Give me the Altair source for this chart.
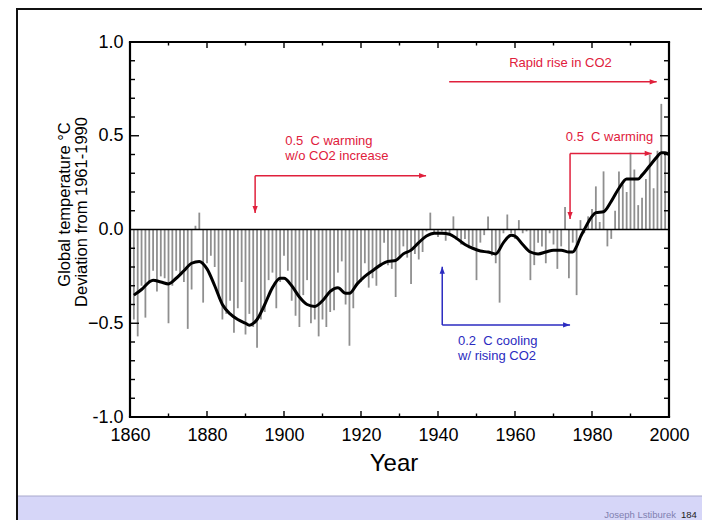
import altair as alt
import pandas as pd

# ---------------- data ----------------
years = list(range(1861, 2001))
anomaly = [
    -0.48, -0.57, -0.30, -0.47, -0.28, -0.22, -0.33, -0.25, -0.26, -0.50,   # 1861-1870
    -0.30, -0.22, -0.24, -0.28, -0.53, -0.32, 0.02, 0.09, -0.39, -0.18,     # 1871-1880
    -0.14, -0.20, -0.35, -0.48, -0.45, -0.38, -0.55, -0.42, -0.28, -0.56,   # 1881-1890
    -0.45, -0.52, -0.63, -0.48, -0.44, -0.27, -0.23, -0.42, -0.28, -0.14,   # 1891-1900
    -0.22, -0.38, -0.46, -0.52, -0.35, -0.27, -0.50, -0.48, -0.57, -0.48,   # 1901-1910
    -0.52, -0.44, -0.43, -0.23, -0.17, -0.40, -0.62, -0.42, -0.30, -0.28,   # 1911-1920
    -0.18, -0.31, -0.26, -0.30, -0.20, -0.07, -0.19, -0.21, -0.36, -0.14,   # 1921-1930
    -0.09, -0.15, -0.29, -0.13, -0.16, -0.12, -0.01, 0.09, -0.02, -0.04,    # 1931-1940
    -0.01, -0.06, -0.03, 0.07, -0.04, -0.08, -0.05, -0.10, -0.09, -0.27,    # 1941-1950
    -0.07, -0.03, 0.07, -0.14, -0.18, -0.39, -0.02, 0.08, -0.02, -0.05,     # 1951-1960
    0.05, -0.02, -0.01, -0.27, -0.19, -0.07, -0.09, -0.18, -0.02, -0.08,    # 1961-1970
    -0.21, -0.09, 0.12, -0.26, -0.07, -0.35, 0.05, -0.02, 0.07, 0.11,       # 1971-1980
    0.23, 0.04, 0.31, -0.09, -0.05, 0.10, 0.31, 0.24, 0.20, 0.41,           # 1981-1990
    0.32, 0.13, 0.17, 0.27, 0.40, 0.22, 0.42, 0.67, 0.40, 0.38,             # 1991-2000
]

smooth_years = [1861, 1863, 1865, 1866, 1868, 1870, 1872, 1874, 1876, 1878,
                1880, 1882, 1884, 1886, 1888, 1890, 1891, 1893, 1895, 1897,
                1899, 1900, 1902, 1904, 1906, 1908, 1910, 1912, 1914, 1916,
                1917, 1919, 1921, 1923, 1925, 1927, 1929, 1931, 1933, 1935,
                1937, 1939, 1941, 1943, 1945, 1947, 1949, 1951, 1953, 1955,
                1957, 1959, 1960, 1962, 1964, 1966, 1968, 1970, 1972, 1974,
                1975, 1976, 1977, 1978, 1980, 1981, 1983, 1985, 1987, 1989,
                1991, 1992, 1993, 1995, 1997, 1998, 1999, 2000]
smooth_vals = [-0.35, -0.32, -0.28, -0.27, -0.28, -0.29, -0.26, -0.22, -0.18, -0.17,
               -0.21, -0.30, -0.40, -0.45, -0.48, -0.50, -0.51, -0.48, -0.40, -0.31,
               -0.26, -0.26, -0.30, -0.36, -0.40, -0.41, -0.38, -0.33, -0.31, -0.34,
               -0.34, -0.29, -0.25, -0.22, -0.19, -0.17, -0.165, -0.13, -0.11, -0.07,
               -0.035, -0.02, -0.02, -0.025, -0.05, -0.08, -0.10, -0.115, -0.12, -0.13,
               -0.07, -0.03, -0.035, -0.08, -0.12, -0.13, -0.12, -0.11, -0.11, -0.12,
               -0.12, -0.09, -0.04, 0.0, 0.07, 0.09, 0.095, 0.15, 0.22, 0.27,
               0.27, 0.27, 0.29, 0.34, 0.39, 0.41, 0.41, 0.40]

x_label_values = [1860, 1880, 1900, 1920, 1940, 1960, 1980, 2000]
y_label_values = [-1.0, -0.5, 0.0, 0.5, 1.0]
x_minor_ticks = [1870, 1890, 1910, 1930, 1950, 1970, 1990]
y_minor_ticks = [-0.9, -0.8, -0.7, -0.6, -0.4, -0.3, -0.2, -0.1,
                 0.1, 0.2, 0.3, 0.4, 0.6, 0.7, 0.8, 0.9]
y_major_ticks = [-0.5, 0.5]

# annotation texts (year, value anchor)
NB = "\u00a0"
note_text = ["Rapid rise in CO2", f"0.5{NB}{NB}C warming", "w/o CO2 increase",
             f"0.5{NB}{NB}C warming", f"0.2{NB}{NB}C cooling", "w/ rising CO2"]
note_x = [1971.8, 1900.3, 1900.3, 1973.2, 1945.2, 1945.2]
note_y = [0.886, 0.472, 0.392, 0.492, -0.596, -0.676]
note_align = ["center", "left", "left", "left", "left", "left"]
note_color = ["#e0203c", "#e0203c", "#e0203c", "#e0203c", "#2b2bc0", "#2b2bc0"]

# arrow segments
seg_x = [1942.9, 1892.5, 1892.5, 1974.3, 1974.3, 1941.1, 1941.1]
seg_x2 = [1996.8, 1936.9, 1892.5, 1995.5, 1974.3, 1941.1, 1974.3]
seg_y = [0.788, 0.287, 0.287, 0.406, 0.406, -0.509, -0.509]
seg_y2 = [0.788, 0.287, 0.088, 0.406, 0.056, -0.198, -0.509]
seg_color = ["#e0203c", "#e0203c", "#e0203c", "#e0203c", "#e0203c", "#2b2bc0", "#2b2bc0"]

RIGHT = "M0,0 L-2,-0.75 L-2,0.75 Z"
DOWN = "M0,0 L-0.75,-2 L0.75,-2 Z"
UP = "M0,0 L-0.75,2 L0.75,2 Z"
head_x = [1996.8, 1936.9, 1892.5, 1995.5, 1974.3, 1941.1, 1974.3]
head_y = [0.788, 0.287, 0.088, 0.406, 0.056, -0.198, -0.509]
head_shape = [RIGHT, RIGHT, DOWN, RIGHT, DOWN, UP, RIGHT]
head_color = seg_color

# ---------------- chart ----------------
W, H = 539, 375
FONT = "Liberation Sans"

bars_df = pd.DataFrame({"year": years, "anom": anomaly})
smooth_df = pd.DataFrame({"year": smooth_years, "val": smooth_vals})
notes_df = pd.DataFrame({"x": note_x, "y": note_y, "t": note_text,
                         "a": note_align, "c": note_color})
seg_df = pd.DataFrame({"x": seg_x, "x2": seg_x2, "y": seg_y, "y2": seg_y2, "c": seg_color})
head_df = pd.DataFrame({"x": head_x, "y": head_y, "s": head_shape, "c": head_color})
one = pd.DataFrame({"a": [0]})

xs = alt.Scale(domain=[1860, 2000], nice=False, zero=False)
ys = alt.Scale(domain=[-1, 1], nice=False, zero=False)

XA = alt.Axis(values=x_label_values, format="d", title=None, ticks=False, domain=False,
              grid=False, labelFont=FONT, labelFontSize=18, labelColor="black",
              labelPadding=9, labelFlush=False)
YA = alt.Axis(values=y_label_values, title=None, ticks=False, domain=False, grid=False,
              labelFont=FONT, labelFontSize=18, labelColor="black", labelPadding=7,
              labelExpr="datum.value == -1 ? '-1.0' : format(datum.value, '.1f')")

bars = alt.Chart(bars_df).mark_rule(color="#8f8f8f", strokeWidth=1.8).encode(
    x=alt.X("year:Q", scale=xs, axis=XA),
    y=alt.Y("anom:Q", scale=ys, axis=YA),
    y2=alt.datum(0),
)

zero = alt.Chart(one).mark_rule(color="black", strokeWidth=1.6).encode(
    y=alt.datum(0, scale=ys), x=alt.value(0), x2=alt.value(W)
)

smooth = alt.Chart(smooth_df).mark_line(color="black", strokeWidth=3, interpolate="monotone").encode(
    x=alt.X("year:Q", scale=xs, axis=XA),
    y=alt.Y("val:Q", scale=ys, axis=YA),
)

# plot frame
fr = alt.Chart(one).mark_rule(color="black", strokeWidth=2.2)
frame = [
    fr.encode(x=alt.value(0), y=alt.value(0), y2=alt.value(H)),
    fr.encode(x=alt.value(W), y=alt.value(0), y2=alt.value(H)),
    fr.encode(y=alt.value(0), x=alt.value(-1.1), x2=alt.value(W + 1.1)),
    fr.encode(y=alt.value(H), x=alt.value(-1.1), x2=alt.value(W + 1.1)),
]

tx_major = pd.DataFrame({"v": x_label_values})
tx_minor = pd.DataFrame({"v": x_minor_ticks})
ty_major = pd.DataFrame({"v": y_major_ticks})
ty_minor = pd.DataFrame({"v": y_minor_ticks})


def xticks(df, length):
    base = alt.Chart(df).mark_rule(color="black", strokeWidth=1.4)
    bot = base.encode(x=alt.X("v:Q", scale=xs, axis=XA), y=alt.value(H), y2=alt.value(H - length))
    top = base.encode(x=alt.X("v:Q", scale=xs, axis=XA), y=alt.value(0), y2=alt.value(length))
    return [bot, top]


def yticks(df, length):
    base = alt.Chart(df).mark_rule(color="black", strokeWidth=1.4)
    left = base.encode(y=alt.Y("v:Q", scale=ys, axis=YA), x=alt.value(0), x2=alt.value(length))
    right = base.encode(y=alt.Y("v:Q", scale=ys, axis=YA), x=alt.value(W), x2=alt.value(W - length))
    return [left, right]


ticks = xticks(tx_major, 6) + xticks(tx_minor, 3.5) + yticks(ty_major, 9) + yticks(ty_minor, 5)

segs = alt.Chart(seg_df).mark_rule(strokeWidth=1.5).encode(
    x=alt.X("x:Q", scale=xs, axis=XA), x2="x2:Q",
    y=alt.Y("y:Q", scale=ys, axis=YA), y2="y2:Q",
    color=alt.Color("c:N", scale=None),
)

heads = alt.Chart(head_df).mark_point(filled=True, size=49, opacity=1, strokeWidth=0).encode(
    x=alt.X("x:Q", scale=xs, axis=XA),
    y=alt.Y("y:Q", scale=ys, axis=YA),
    shape=alt.Shape("s:N", scale=None),
    color=alt.Color("c:N", scale=None),
)

notes_left = alt.Chart(notes_df[notes_df.a == "left"]).mark_text(
    font=FONT, fontSize=13, align="left", baseline="middle").encode(
    x=alt.X("x:Q", scale=xs, axis=XA),
    y=alt.Y("y:Q", scale=ys, axis=YA),
    text="t:N", color=alt.Color("c:N", scale=None),
)
notes_center = alt.Chart(notes_df[notes_df.a == "center"]).mark_text(
    font=FONT, fontSize=13, align="center", baseline="middle").encode(
    x=alt.X("x:Q", scale=xs, axis=XA),
    y=alt.Y("y:Q", scale=ys, axis=YA),
    text="t:N", color=alt.Color("c:N", scale=None),
)

# axis titles and slide decoration (pixel positions relative to plot origin)
ytitle1 = alt.Chart(one).mark_text(font=FONT, fontSize=16.5, angle=270, align="center",
                                   baseline="middle", color="black").encode(
    x=alt.value(-65), y=alt.value(162.5), text=alt.value("Global temperature °C"))
ytitle2 = alt.Chart(one).mark_text(font=FONT, fontSize=16.5, angle=270, align="center",
                                   baseline="middle", color="black").encode(
    x=alt.value(-48), y=alt.value(170), text=alt.value("Deviation from 1961-1990"))
xtitle = alt.Chart(one).mark_text(font=FONT, fontSize=24, align="center",
                                  baseline="middle", color="black").encode(
    x=alt.value(264), y=alt.value(422), text=alt.value("Year"))

band = alt.Chart(one).mark_rect(color="#d6d6f8").encode(
    x=alt.value(-114), x2=alt.value(575), y=alt.value(454), y2=alt.value(480))
band_line = alt.Chart(one).mark_rule(color="#a8a8cc", strokeWidth=1).encode(
    x=alt.value(-114), x2=alt.value(575), y=alt.value(454))
frame_left = alt.Chart(one).mark_rule(color="#111", strokeWidth=2).encode(
    x=alt.value(-113), y=alt.value(-34), y2=alt.value(480))
frame_top = alt.Chart(one).mark_rule(color="#111", strokeWidth=2).encode(
    y=alt.value(-33), x=alt.value(-114), x2=alt.value(575))
footer1 = alt.Chart(one).mark_text(font=FONT, fontSize=9.5, align="right", baseline="middle",
                                   color="#8080b0").encode(
    x=alt.value(546), y=alt.value(473), text=alt.value("Joseph Lstiburek"))
footer2 = alt.Chart(one).mark_text(font=FONT, fontSize=9.5, align="left", baseline="middle",
                                   color="#222222").encode(
    x=alt.value(551), y=alt.value(473), text=alt.value("184"))

chart = alt.layer(
    band, band_line, frame_left, frame_top, footer1, footer2,
    bars, zero, smooth, *ticks, *frame, segs, heads, notes_left, notes_center,
    ytitle1, ytitle2, xtitle,
).properties(
    width=W, height=H,
    autosize=alt.AutoSizeParams(type="none"),
    padding={"left": 122, "top": 34, "right": 33, "bottom": 103},
    background="white",
).configure_view(stroke=None)

chart.save("out.html", embed_options={"renderer": "svg", "actions": False})
